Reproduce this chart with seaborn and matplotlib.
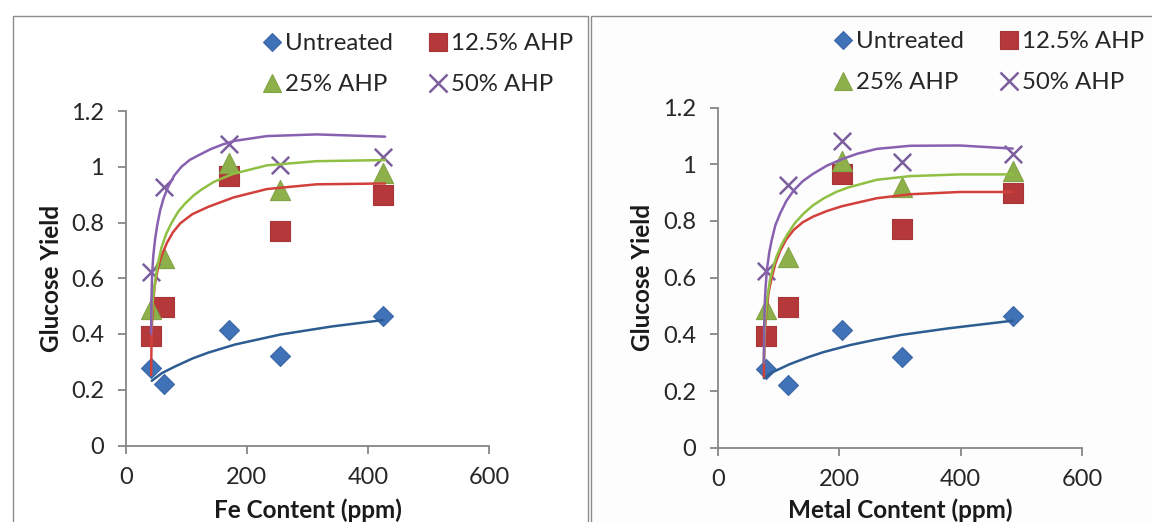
import matplotlib
matplotlib.use("Agg")
import matplotlib.pyplot as plt
from matplotlib.lines import Line2D
from matplotlib.patches import Rectangle
import seaborn as sns
import pandas as pd

# ---------------- data ----------------
series = ["Untreated", "12.5% AHP", "25% AHP", "50% AHP"]
fe_content = [42, 64, 171, 255, 425]
metal_content = [80, 116, 204, 303, 486]
untreated = [0.277, 0.222, 0.414, 0.321, 0.466]
ahp_12_5 = [0.394, 0.498, 0.967, 0.770, 0.898]
ahp_25 = [0.490, 0.671, 1.012, 0.918, 0.976]
ahp_50 = [0.623, 0.928, 1.081, 1.006, 1.035]
y_ticks = [0, 0.2, 0.4, 0.6, 0.8, 1.0, 1.2]
y_tick_labels = ["0", "0.2", "0.4", "0.6", "0.8", "1", "1.2"]
x_ticks = [0, 200, 400, 600]
x_tick_labels = ["0", "200", "400", "600"]

# trend lines - Fe panel
fe_blue_x = [43, 60, 81, 110, 136, 180, 255, 340, 425]
fe_blue_y = [0.232, 0.260, 0.283, 0.312, 0.333, 0.362, 0.398, 0.427, 0.450]
fe_red_x = [42, 42.5, 43.5, 45.5, 48, 54, 60, 68, 78, 90, 110, 136, 178, 233, 315, 428]
fe_red_y = [0.253, 0.36, 0.44, 0.52, 0.575, 0.645, 0.685, 0.727, 0.765, 0.797, 0.830, 0.856, 0.890, 0.920, 0.937, 0.940]
fe_green_x = [42, 43, 45, 48, 52, 59, 67, 76, 87, 98, 112, 125, 145, 165, 178, 233, 315, 428]
fe_green_y = [0.42, 0.47, 0.53, 0.58, 0.64, 0.71, 0.76, 0.80, 0.84, 0.868, 0.897, 0.918, 0.945, 0.964, 0.975, 1.005, 1.020, 1.024]
fe_purple_x = [42, 42.5, 43.5, 45.5, 48.5, 52, 57, 63, 70, 80, 92, 106, 121, 140, 160, 180, 233, 315, 428]
fe_purple_y = [0.40, 0.52, 0.61, 0.68, 0.74, 0.79, 0.845, 0.89, 0.928, 0.968, 1.000, 1.025, 1.042, 1.063, 1.080, 1.093, 1.110, 1.116, 1.108]

# trend lines - Metal panel
mt_blue_x = [76, 90, 119, 150, 174, 218, 260, 303, 380, 486]
mt_blue_y = [0.245, 0.266, 0.295, 0.320, 0.337, 0.362, 0.381, 0.398, 0.421, 0.448]
mt_red_x = [76, 76.5, 78, 80, 84, 89, 95, 103, 113, 125, 140, 157, 180, 205, 262, 317, 399, 486]
mt_red_y = [0.25, 0.33, 0.42, 0.48, 0.55, 0.60, 0.65, 0.695, 0.735, 0.768, 0.795, 0.815, 0.835, 0.852, 0.880, 0.894, 0.902, 0.902]
mt_green_x = [76, 77, 78.5, 81, 86, 91, 97, 105, 114, 127, 141, 157, 175, 195, 215, 262, 317, 399, 486]
mt_green_y = [0.30, 0.40, 0.46, 0.52, 0.59, 0.635, 0.675, 0.715, 0.750, 0.792, 0.825, 0.855, 0.880, 0.902, 0.918, 0.945, 0.958, 0.964, 0.964]
mt_purple_x = [76, 76.5, 77.5, 79, 81, 85, 89, 95, 103, 113, 125, 140, 157, 180, 205, 230, 262, 317, 399, 486]
mt_purple_y = [0.30, 0.42, 0.51, 0.57, 0.627, 0.69, 0.733, 0.785, 0.827, 0.87, 0.907, 0.94, 0.966, 0.995, 1.018, 1.037, 1.054, 1.065, 1.066, 1.055]

# ---------------- styles ----------------
marker_fill = ["#3F72B6", "#B5393B", "#8DB04B", "#7B5E9D"]
marker_edge = ["#3A68A6", "#A83538", "#82A445", "#7B5E9D"]
line_colors = ["#2C5C91", "#D2403C", "#8FC043", "#8860B0"]
markers = ["D", "s", "^", "x"]
sizes = [10.2, 14.5, 14.5, 12.5]

sns.set_theme(style="white")
plt.rcParams["font.family"] = ["Lato", "DejaVu Sans"]

W, H = 1152, 522
fig = plt.figure(figsize=(W / 100, H / 100), dpi=100)
fig.patch.set_facecolor("white")

# chart frames
fig.add_artist(Rectangle((13 / W, -0.2), (587.5 - 13) / W, 1.2 - 16 / H,
                         transform=fig.transFigure, fill=False,
                         edgecolor="#8C8C8C", lw=1.0))
fig.add_artist(Rectangle((591 / W, -0.2), 0.6, 1.2 - 16 / H,
                         transform=fig.transFigure, facecolor="#FDFDFD",
                         edgecolor="#8C8C8C", lw=1.0, zorder=0))


def px_axes(x0, x1, y_top, y_bot):
    return [x0 / W, (H - y_bot) / H, (x1 - x0) / W, (y_bot - y_top) / H]


panels = [
    dict(rect=px_axes(125.7, 489.3, 111.0, 445.5), x=fe_content, xlabel="Fe Content (ppm)",
         curves=[(fe_blue_x, fe_blue_y), (fe_red_x, fe_red_y), (fe_green_x, fe_green_y), (fe_purple_x, fe_purple_y)],
         ylab=(-0.205, 0.5), xlab=(0.5, -0.193), leg=(263.6 / W, 1 - 33 / H)),
    dict(rect=px_axes(717.7, 1082.0, 107.5, 447.7), x=metal_content, xlabel="Metal Content (ppm)",
         curves=[(mt_blue_x, mt_blue_y), (mt_red_x, mt_red_y), (mt_green_x, mt_green_y), (mt_purple_x, mt_purple_y)],
         ylab=(-0.207, 0.5), xlab=(0.5, -0.183), leg=(834.6 / W, 1 - 31 / H)),
]

values = [untreated, ahp_12_5, ahp_25, ahp_50]

for p in panels:
    ax = fig.add_axes(p["rect"])
    ax.set_facecolor("none")
    for i, name in enumerate(series):
        df = pd.DataFrame({"x": p["x"], "y": values[i]})
        kw = dict(marker=markers[i], s=sizes[i] ** 2, color=marker_fill[i], ax=ax, zorder=3, legend=False)
        if markers[i] == "x":
            kw.update(linewidth=1.8)
        else:
            kw.update(edgecolor=marker_edge[i], linewidth=0.8)
        sns.scatterplot(data=df, x="x", y="y", **kw)
    for i, (cx, cy) in enumerate(p["curves"]):
        cdf = pd.DataFrame({"x": cx, "y": cy})
        sns.lineplot(data=cdf, x="x", y="y", ax=ax, color=line_colors[i], lw=1.8,
                     estimator=None, sort=False, zorder=4, legend=False)
    ax.set_xlim(0, 600)
    ax.set_ylim(0, 1.2)
    ax.set_xticks(x_ticks)
    ax.set_xticklabels(x_tick_labels)
    ax.set_yticks(y_ticks)
    ax.set_yticklabels(y_tick_labels)
    for side in ["top", "right"]:
        ax.spines[side].set_visible(False)
    for side in ["left", "bottom"]:
        ax.spines[side].set_color("#868686")
        ax.spines[side].set_linewidth(1.3)
    ax.tick_params(axis="both", which="major", direction="out", length=5.5, width=1.3,
                   color="#868686", labelsize=17, labelcolor="#262626")
    ax.tick_params(axis="y", pad=10)
    ax.tick_params(axis="x", pad=10)
    ax.tick_params(left=True, bottom=True)
    ax.set_xlabel(p["xlabel"], fontsize=17.5, fontweight="bold", color="#1a1a1a")
    ax.set_ylabel("Glucose Yield", fontsize=17.5, fontweight="bold", color="#1a1a1a")
    ax.yaxis.set_label_coords(*p["ylab"])
    ax.xaxis.set_label_coords(*p["xlab"])
    ax.xaxis.label.set_va("center")
    ax.yaxis.label.set_va("center")
    ax.grid(False)

    order = [0, 2, 1, 3]
    handles = []
    for i in order:
        if markers[i] == "x":
            h = Line2D([], [], ls="none", marker="x", markersize=sizes[i], color=marker_fill[i], mew=1.8)
        else:
            h = Line2D([], [], ls="none", marker=markers[i], markersize=sizes[i] * 0.85,
                       markerfacecolor=marker_fill[i], markeredgecolor=marker_edge[i], mew=0.8)
        handles.append(h)
    ax.legend(handles, [series[i] for i in order], ncol=2, loc="upper left",
              bbox_to_anchor=p["leg"], bbox_transform=fig.transFigure,
              frameon=False, fontsize=17.3, handlelength=0.7, handletextpad=0.19,
              columnspacing=1.52, labelspacing=0.85, borderpad=0, borderaxespad=0,
              labelcolor="#262626")

fig.savefig("out.png", dpi=100)
